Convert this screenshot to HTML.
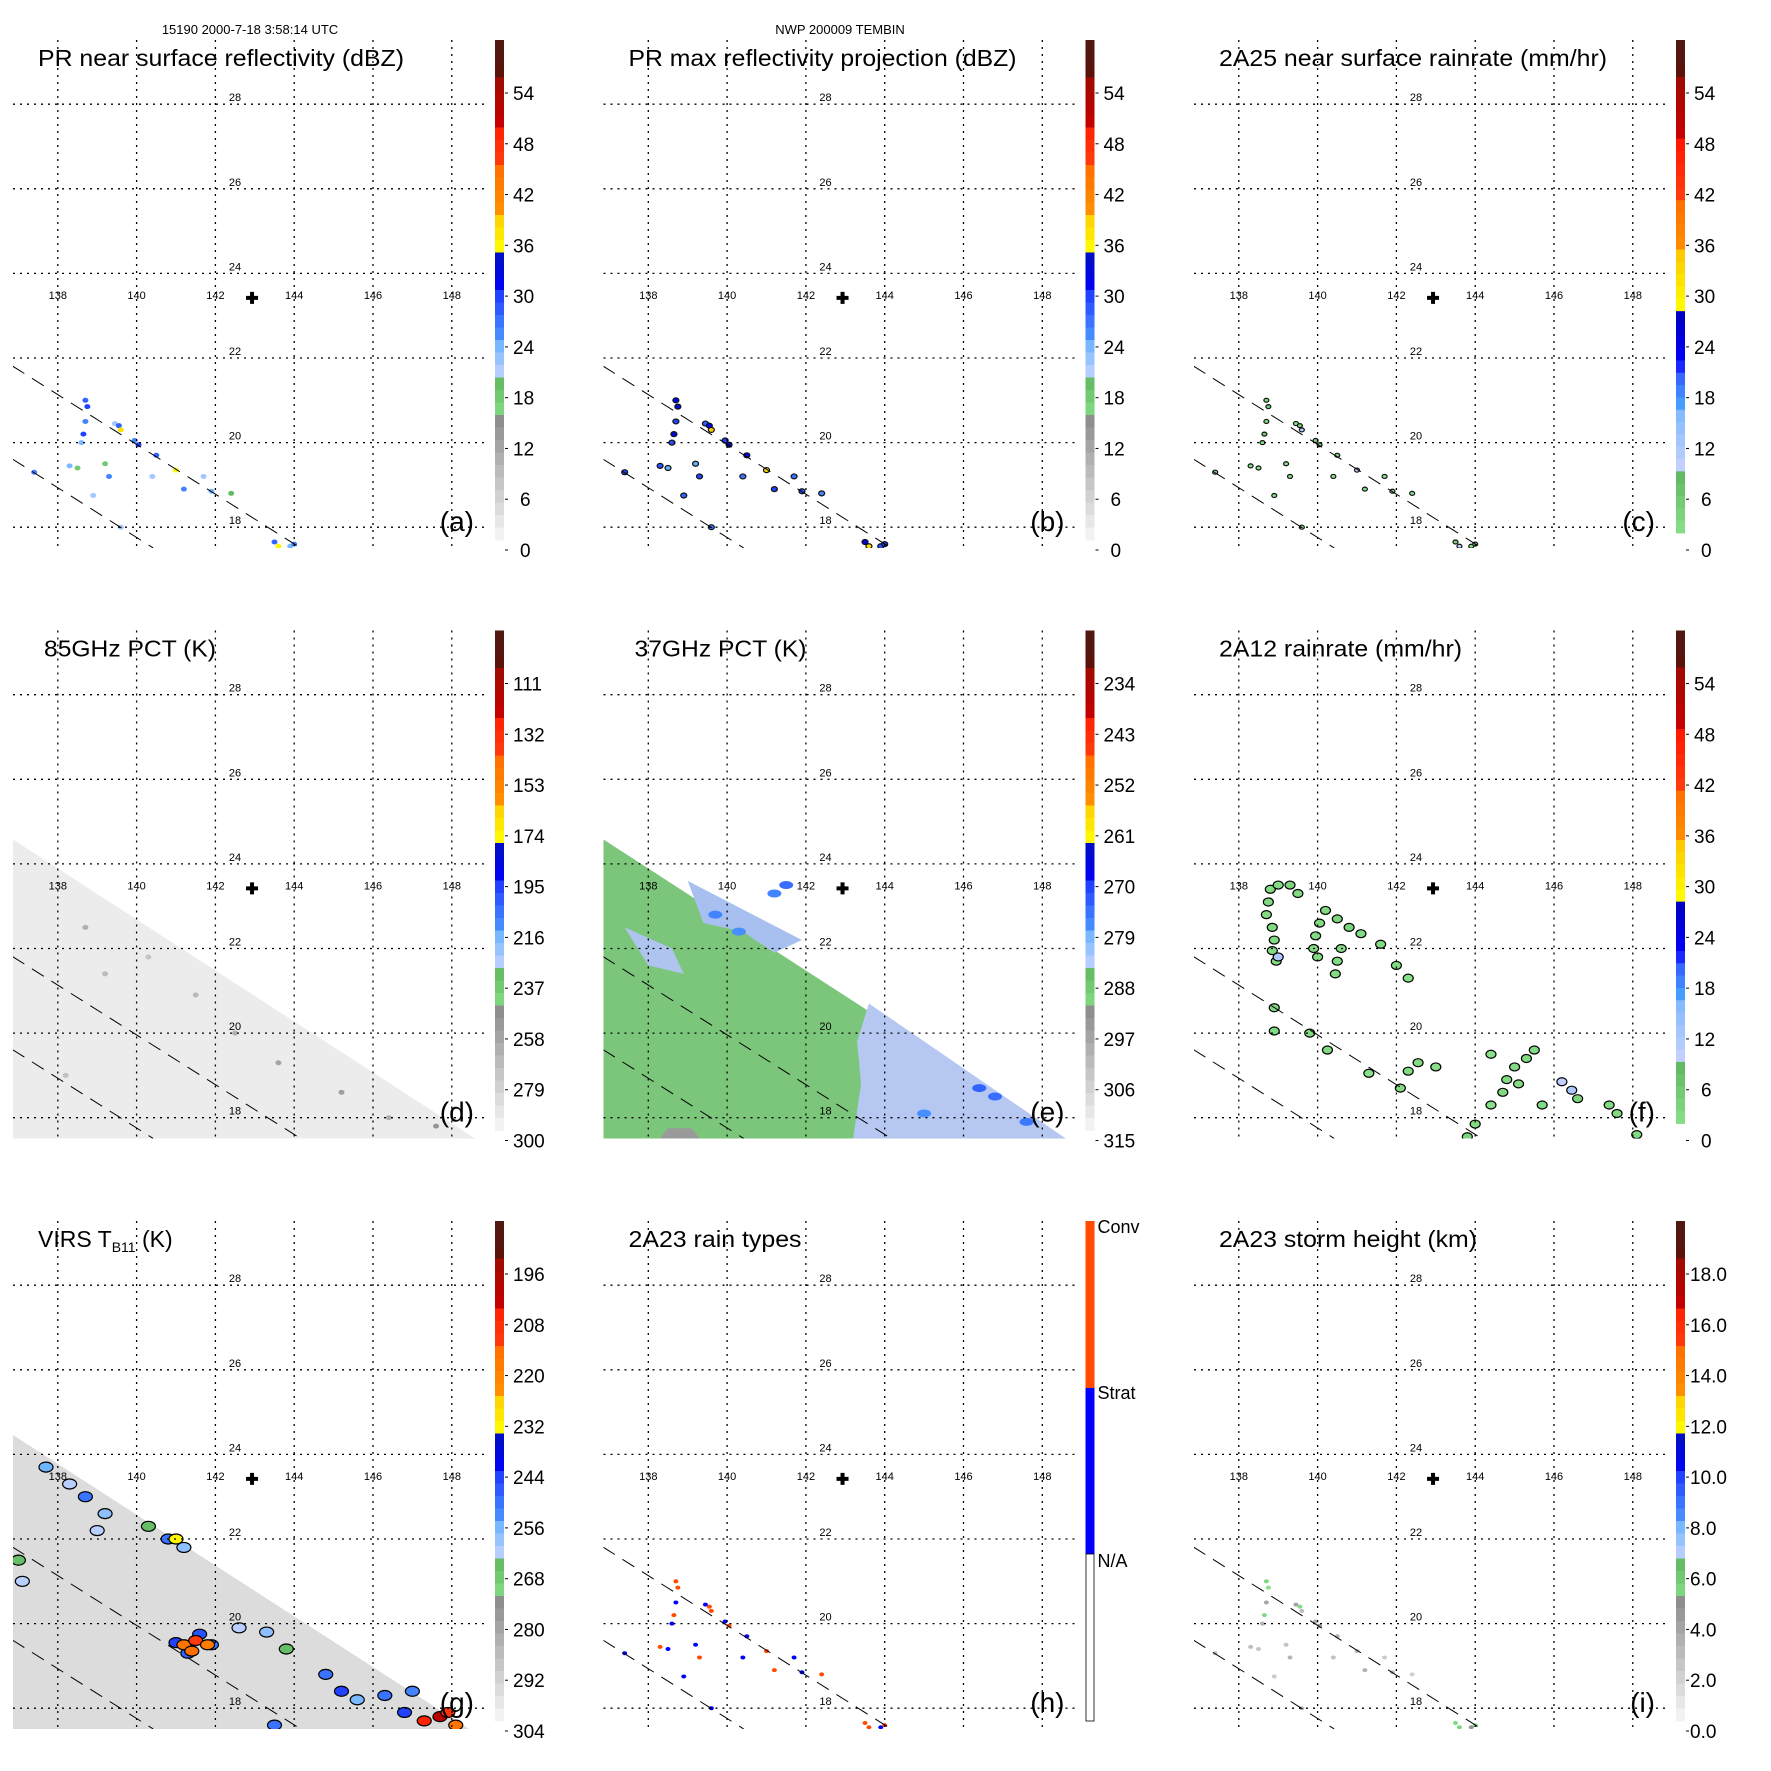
<!DOCTYPE html>
<html><head><meta charset="utf-8">
<style>
html,body{margin:0;padding:0;background:#fff;}
svg{display:block;font-family:"Liberation Sans",Arial,sans-serif;}
</style></head>
<body>
<svg id="fig" width="1771" height="1771" viewBox="0 0 1771 1771" xmlns="http://www.w3.org/2000/svg">
<text x="250" y="34" font-size="13" text-anchor="middle">15190 2000-7-18 3:58:14 UTC</text>
<text x="840" y="34" font-size="13" text-anchor="middle">NWP 200009 TEMBIN</text>
</svg>
<script>
// ---------- data ----------
const lonTicks=[138,140,142,144,146,148];
const latTicks=[18,20,22,24,26,28];
const stormCenter=[142.93,23.42];
const labelsDBZ=["54","48","42","36","30","24","18","12","6","0"];
const valsDBZ=[54,48,42,36,30,24,18,12,6,0];
const labels85=["111","132","153","174","195","216","237","258","279","300"];
const vals85=[111,132,153,174,195,216,237,258,279,300];
const labels37=["234","243","252","261","270","279","288","297","306","315"];
const vals37=[234,243,252,261,270,279,288,297,306,315];
const labelsVIRS=["196","208","220","232","244","256","268","280","292","304"];
const valsVIRS=[196,208,220,232,244,256,268,280,292,304];
const labelsHt=["18.0","16.0","14.0","12.0","10.0","8.0","6.0","4.0","2.0","0.0"];
const valsHt=[18,16,14,12,10,8,6,4,2,0];
const rainTypeLabels=["Conv","Strat","N/A"];

const prLon=[138.7,138.75,138.7,138.65,138.6,139.45,139.55,139.95,140.05,140.5,140.4,141.2,141.9,141.7,142.4,138.3,138.5,139.2,139.3,137.4,138.9,139.6,143.5,143.6,143.9,144.0,141.0,139.6];
const prLat=[21.0,20.85,20.5,20.2,20.0,20.45,20.4,20.05,19.95,19.7,19.2,18.9,18.85,19.2,18.8,19.45,19.4,19.5,19.2,19.3,18.75,18.0,17.65,17.55,17.55,17.6,19.35,20.3];
const prDBZ=[28,30,26,30,24,22,28,26,30,28,22,26,24,22,20,24,18,18,26,26,22,22,28,36,24,26,36,38];
const prMax=[32,34,30,33,29,28,31,30,33,31,27,30,29,27,26,29,25,25,30,30,28,27,32,38,29,30,38,40];
const prRain=[4,6,3,6,2,2,4,3,6,4,2,3,2,2,1,2,1,1,3,3,2,2,4,10,2,3,10,12];
const rainType=[2,2,1,2,1,1,2,1,2,1,1,2,1,1,2,2,1,1,2,1,1,1,2,2,1,2,2,2];
const stormHt=[5.5,5.2,4.0,5.4,3.5,4.2,5.3,3.8,4.5,3.6,2.8,3.5,3.2,2.5,2.2,3.0,2.6,2.8,3.4,2.9,2.4,3.1,5.4,5.6,4.8,5.2,3.2,3.0];

const fLon=[138.8,139.0,139.3,139.5,138.75,138.7,138.85,138.9,138.85,138.95,139.0,140.2,140.5,140.8,141.1,140.05,139.95,139.9,140.0,140.6,140.5,140.45,141.6,142.0,142.3,138.9,138.9,139.8,140.25,141.3,142.3,142.55,142.1,143.0,144.4,144.8,145.0,145.3,145.5,144.7,145.1,144.4,144.0,143.8,145.7,146.2,146.45,146.6,147.4,147.6,148.1];
const fLat=[23.4,23.5,23.5,23.3,23.1,22.8,22.5,22.2,21.95,21.7,21.8,22.9,22.7,22.5,22.35,22.6,22.3,22.0,21.8,22.0,21.7,21.4,22.1,21.6,21.3,20.6,20.05,20.0,19.6,19.05,19.1,19.3,18.7,19.2,19.5,18.9,19.2,19.4,19.6,18.6,18.8,18.3,17.85,17.55,18.3,18.85,18.65,18.45,18.3,18.1,17.6];
const fRain=[3,3,4,3,3,3,3,3,3,3,12,3,4,4,3,3,3,3,3,3,3,3,3,3,2,3,3,3,3,2,3,3,3,2,2,3,3,3,3,3,3,2,3,4,3,10,12,4,3,3,3];

const gLon=[137.7,138.3,138.7,139.2,139.0,140.3,140.8,141.2,141.0,142.6,143.3,143.8,144.8,145.2,145.6,146.3,146.8,147.0,143.5,137.0,137.1,141.0,141.6,141.3,141.9,141.2,141.5,141.8,141.4,147.3,147.7,148.1,147.9];
const gLat=[23.7,23.3,23.0,22.6,22.2,22.3,22.0,21.8,22.0,19.9,19.8,19.4,18.8,18.4,18.2,18.3,17.9,18.4,17.6,21.5,21.0,19.55,19.75,19.3,19.5,19.5,19.6,19.5,19.35,17.7,17.8,17.6,17.9];
const gTb=[255,262,250,258,262,265,250,258,232,262,258,265,250,244,256,250,244,252,250,265,262,244,246,248,250,215,212,218,214,205,200,215,210];

const dLon=[138.7,139.2,140.3,141.5,142.5,143.6,145.2,146.4,147.6,138.2];
const dLat=[22.5,21.4,21.8,20.9,20.0,19.3,18.6,18.0,17.8,19.0];
const dPct=[262,268,272,266,262,258,255,262,250,270];

const eCellLon=[141.5,141.2,146.4,146.8,147.6,145.0,139.7,140.3];
const eCellLat=[23.5,23.3,18.7,18.5,17.9,18.1,22.8,22.4];
const ePct=[274,276,273,274,275,277,276,277];

// ---------- geometry ----------
const NS="http://www.w3.org/2000/svg";
const svg=document.getElementById('fig');
const P=590.5;
const X=lon=>57.8+(lon-138)*39.4;
const Y=lat=>527.2-(lat-18)*42.3;
function mk(tag,attrs,parent){const e=document.createElementNS(NS,tag);for(const k in attrs)e.setAttribute(k,attrs[k]);(parent||svg).appendChild(e);return e;}

const stdStops=[[0,"#f8f8f8"],[0.238,"#8e8e8e"],[0.239,"#88e088"],[0.322,"#60b860"],[0.323,"#c8d4ff"],[0.406,"#60b0ff"],[0.407,"#4890ff"],[0.49,"#2040ff"],[0.491,"#0000ff"],[0.574,"#0010c0"],[0.575,"#ffff00"],[0.658,"#ffc800"],[0.659,"#ff9000"],[0.742,"#ff7000"],[0.743,"#ff4010"],[0.826,"#ff2000"],[0.827,"#c80000"],[0.916,"#a00a00"],[0.917,"#5e0f08"],[1,"#4f1a14"]];
const rainStops=[[0,"#88e088"],[0.117,"#60b860"],[0.118,"#ccd4ff"],[0.25,"#80b8ff"],[0.251,"#4aa8ff"],[0.337,"#3050ff"],[0.338,"#0000ff"],[0.45,"#0000c0"],[0.451,"#ffff00"],[0.57,"#ffc800"],[0.571,"#ff9000"],[0.67,"#ff7000"],[0.671,"#ff4010"],[0.79,"#ff1800"],[0.791,"#cc0000"],[0.915,"#a00a00"],[0.916,"#5e0f08"],[1,"#4f1a14"]];
function hex(c){return [parseInt(c.slice(1,3),16),parseInt(c.slice(3,5),16),parseInt(c.slice(5,7),16)];}
function sample(stops,f){f=Math.max(0,Math.min(1,f));for(let i=1;i<stops.length;i++){if(f<=stops[i][0]){const a=stops[i-1],b=stops[i];const t=(f-a[0])/Math.max(1e-6,b[0]-a[0]);const A=hex(a[1]),B=hex(b[1]);return "rgb("+A.map((v,j)=>Math.round(v+(B[j]-v)*t)).join(",")+")";}}return stops[stops.length-1][1];}
function valToF(vals,v,barBottom){const y0=93,y1=550;const t=(v-vals[0])/(vals[vals.length-1]-vals[0]);const y=y0+t*(y1-y0);return (barBottom-y)/(barBottom-40);}

function panel(col,row,o){
  const dx=col*P,dy=row*P;
  const g=mk('g',{transform:`translate(${dx},${dy})`});
  
  
  const cid='clip'+o.id;
  const cp=mk('clipPath',{id:cid},g);mk('rect',{x:13,y:40,width:473,height:508},cp);
  const m=mk('g',{'clip-path':`url(#${cid})`},g);
  
  
  if(o.drawBg) o.drawBg(m);
  if(o.drawData) o.drawData(m);
  const sw=[[[136.85,21.81],[144.16,17.51]],[[136.85,19.61],[140.42,17.51]]];
  sw.forEach((s,i)=>{const l=mk('line',{x1:X(s[0][0]),y1:Y(s[0][1]),x2:X(s[1][0]),y2:Y(s[1][1]),stroke:'#000','stroke-width':1,'stroke-dasharray':'14,9'},m);
    });
  lonTicks.forEach(lon=>{const l=mk('line',{x1:X(lon),y1:40,x2:X(lon),y2:548,stroke:'#000','stroke-width':1.3,'stroke-dasharray':'2,5'},g);
    
    const t=mk('text',{x:X(lon),y:299,'font-size':11,'text-anchor':'middle'},g);t.textContent=lon;
    });
  latTicks.forEach(lat=>{const l=mk('line',{x1:13,y1:Y(lat),x2:486,y2:Y(lat),stroke:'#000','stroke-width':1.3,'stroke-dasharray':'2,5'},g);
    
    const t=mk('text',{x:235,y:Y(lat)-3,'font-size':11,'text-anchor':'middle'},g);t.textContent=lat;
    });
  const cx=X(stormCenter[0]),cy=Y(stormCenter[1]);
  const cr=mk('path',{d:`M${cx-6} ${cy-2}h4v-4h4v4h4v4h-4v4h-4v-4h-4z`,fill:'#000'},g);
  
  const tt=mk('text',{x:o.tx||38,y:66,'font-size':23},g);
  if(o.titleHTML){tt.innerHTML=o.titleHTML;}else{tt.textContent=o.title;tt.setAttribute('textLength',o.tl);tt.setAttribute('lengthAdjust','spacingAndGlyphs');}
  
  const lt=mk('text',{x:474,y:531,'font-size':28,'text-anchor':'end'},g);lt.textContent='('+o.id+')';
  
  const cb=mk('g',{},g);
  if(o.rainType){
    mk('rect',{x:495,y:40,width:9,height:167,fill:'#ff4a00'},cb);
    mk('rect',{x:495,y:207,width:9,height:166,fill:'#0000ff'},cb);
    mk('rect',{x:495.5,y:373,width:8,height:167,fill:'#fff',stroke:'#000','stroke-width':0.8},cb);
    [52,218,386].forEach((y,i)=>{const t=mk('text',{x:507,y:y,'font-size':18},cb);t.textContent=rainTypeLabels[i];
      });
  } else {
    const bb=o.barBottom,n=40,h=(bb-40)/n;
    for(let i=0;i<n;i++){const f=1-(i+0.5)/n;mk('rect',{x:495,y:40+i*h,width:9,height:h+0.4,fill:sample(o.stops,f)},cb);}
    o.labels.forEach((lab,i)=>{const y=93+i*(457/9);
      mk('line',{x1:505,y1:y,x2:508,y2:y,stroke:'#000','stroke-width':1},cb);
      const t=mk('text',{x:o.labels[0].length>3?509:(lab.length===1?520:513),y:y+7,'font-size':19},cb);t.textContent=lab;
      });
  }
  return g;
}
function swathPoly(m,fill,top){const pts=[[13,top],[X(148.59)-(top===254?6:0),548],[13,548]].map(p=>p.join(',')).join(' ');
  const p=mk('polygon',{points:pts,fill:fill},m);}
function dots(m,lons,lats,vals,colorOf,w,h,stroke,name){
  lons.forEach((lon,i)=>{const e=mk('ellipse',{cx:X(lon),cy:Y(lats[i]),rx:w,ry:h,fill:colorOf(vals[i])},m);
    if(stroke){e.setAttribute('stroke',stroke);e.setAttribute('stroke-width',1.2);}
    
    });
}
const cStd=(vals,bb)=>v=>sample(stdStops,valToF(vals,v,bb));

panel(0,0,{id:'a',title:'PR near surface reflectivity (dBZ)',tl:366,stops:stdStops,labels:labelsDBZ,barBottom:540,
  drawData:m=>dots(m,prLon,prLat,prDBZ,cStd(valsDBZ,540),3,2.5,null,'reflectivity-pixel')});
panel(1,0,{id:'b',title:'PR max reflectivity projection (dBZ)',tl:388,stops:stdStops,labels:labelsDBZ,barBottom:540,
  drawData:m=>dots(m,prLon,prLat,prMax,cStd(valsDBZ,540),3,2.5,'#111','max-reflectivity-pixel')});
panel(2,0,{id:'c',title:'2A25 near surface rainrate (mm/hr)',tl:388,stops:rainStops,labels:labelsDBZ,barBottom:533,
  drawData:m=>dots(m,prLon,prLat,prRain,v=>sample(rainStops,valToF(valsDBZ,v,533)),2.5,2,'#111','rainrate-pixel')});
panel(0,1,{id:'d',title:'85GHz PCT (K)',tl:172,tx:44,stops:stdStops,labels:labels85,barBottom:540,
  drawBg:m=>swathPoly(m,'#ececec',249),
  drawData:m=>dots(m,dLon,dLat,dPct,cStd(vals85,540),3,2.5,null,'pct85-pixel')});
panel(1,1,{id:'e',title:'37GHz PCT (K)',tl:172,tx:44,stops:stdStops,labels:labels37,barBottom:540,
  drawBg:m=>{swathPoly(m,'#7cc67c',249);
    const blue1=[[143.6,20.7],[148.59,17.51],[143.2,17.51],[143.4,18.8],[143.3,19.8]];
    const blue2=[[139.0,23.6],[141.9,22.2],[141.2,21.9],[140.4,22.4],[139.4,22.6]];
    const blue3=[[137.4,22.5],[138.6,22.0],[138.9,21.4],[138.0,21.6]];
    const gray=[[138.3,17.51],[139.3,17.51],[139.1,17.75],[138.5,17.75]];
    [[blue1,'#b6c8f2'],[blue2,'#a8c0f0'],[blue3,'#b0c4f0'],[gray,'#9a9a9a']].forEach(([pp,f])=>{const p=mk('polygon',{points:pp.map(q=>X(q[0])+','+Y(q[1])).join(' '),fill:f},m);
      });},
  drawData:m=>dots(m,eCellLon,eCellLat,ePct,cStd(vals37,540),7,4,null,'pct37-pixel')});
panel(2,1,{id:'f',title:'2A12 rainrate (mm/hr)',tl:243,stops:rainStops,labels:labelsDBZ,barBottom:533,
  drawData:m=>dots(m,fLon,fLat,fRain,v=>sample(rainStops,valToF(valsDBZ,v,533)),5,4,'#000','tmi-rainrate-cell')});
panel(0,2,{id:'g',titleHTML:'VIRS T<tspan font-size="14" dy="5">B11</tspan><tspan dy="-5"> (K)</tspan>',stops:stdStops,labels:labelsVIRS,barBottom:540,
  drawBg:m=>swathPoly(m,'#dcdcdc',254),
  drawData:m=>dots(m,gLon,gLat,gTb,cStd(valsVIRS,540),7,5,'#000','virs-cloud-cell')});
panel(1,2,{id:'h',title:'2A23 rain types',tl:173,rainType:true,
  drawData:m=>dots(m,prLon,prLat,rainType,v=>v===2?'#ff4a00':'#0000ff',2.5,2,null,'rain-type-pixel')});
panel(2,2,{id:'i',title:'2A23 storm height (km)',tl:258,stops:stdStops,labels:labelsHt,barBottom:540,
  drawData:m=>dots(m,prLon,prLat,stormHt,cStd(valsHt,540),2.5,2,null,'storm-height-pixel')});
</script>
</body></html>
